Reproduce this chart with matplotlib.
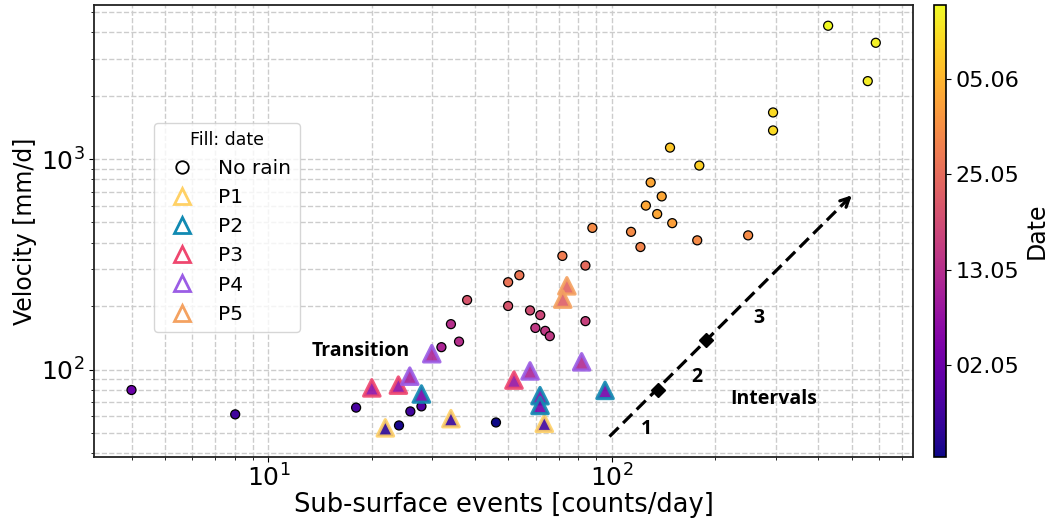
import matplotlib
matplotlib.use('Agg')
import matplotlib.pyplot as plt
import numpy as np

# --- data -----------------------------------------------------------------
# "No rain" days: events/day, velocity mm/d, date as day-of-year
dry_events = [3.99, 8.0, 18.0, 24.0, 25.9, 27.9, 46.0, 31.9, 34.0, 35.9,
              37.9, 49.9, 53.8, 49.9, 57.8, 61.9, 59.9, 64.0, 66.0, 71.8,
              83.8, 83.8, 87.8, 113.8, 121.2, 125.7, 129.8, 135.6, 139.8,
              147.8, 150.0, 177.4, 179.9, 249.6, 295.0, 295.0, 426.8,
              587.6, 556.8]
dry_velocity = [80, 61.3, 66, 54.3, 63.3, 66.9, 56.1, 127.8, 164.4, 135.8,
                213.9, 260, 280.6, 200.5, 191, 181.5, 157.7, 152.7, 144.2,
                346.6, 311.9, 169.9, 470.9, 451, 382, 601, 774, 548, 664.6,
                1133, 496, 411, 931, 434, 1367, 1664, 4295, 3565, 2344]
dry_date = [122.3, 117.0, 118.0, 112.5, 117.0, 119.7, 111.6, 132.0, 134.0,
            134.0, 141.0, 146.5, 147.0, 141.0, 139.5, 138.5, 135.8, 135.8,
            135.8, 148.0, 144.9, 137.4, 150.3, 150.3, 149.2, 154.6, 154.6,
            154.6, 154.6, 158.9, 153.5, 150.3, 160.0, 150.3, 161.5, 161.5,
            165.3, 164.2, 163.7]

# rain periods
periods = ['P1', 'P2', 'P3', 'P4', 'P5']
period_colors = ['#FFD166', '#118AB2', '#EF476F', '#9B5DE5', '#F4A261']
rain_events = [[21.9, 34.0, 63.6],
               [27.9, 61.8, 61.8, 95.6],
               [20.0, 23.9, 51.9],
               [25.8, 29.9, 57.8, 81.7],
               [74.0, 72.0]]
rain_velocity = [[52.9, 58.5, 55.6],
                 [76.6, 75.2, 67.6, 79.7],
                 [81.9, 84.4, 89.2],
                 [93.1, 119, 98.6, 108.9],
                 [250, 216.2]]
rain_date = [[114.3, 115.4, 117.0],
             [123.4, 125.0, 123.4, 123.4],
             [127.7, 127.7, 128.8],
             [130.9, 132.0, 132.0, 133.1],
             [143.8, 142.7]]

# colourbar ticks (day-of-year) and labels
date_ticks = [122.5, 133.8, 145.2, 156.5]
date_labels = ['02.05', '13.05', '25.05', '05.06']

# interval arrow and break points
arrow_start = (98.5, 48.1)
arrow_end = (507, 687)
break_events = [136.7, 188.4]
break_velocity = [80.2, 138.1]
interval_labels = ['1', '2', '3']
interval_pos = [(126.4, 52.5), (176.4, 92.5), (268.4, 176)]

# --- plot -----------------------------------------------------------------
fig = plt.figure(figsize=(10.51, 5.20), dpi=100)
ax = fig.add_axes([0.0897, 0.121, 0.779, 0.869])
cax = fig.add_axes([0.8887, 0.121, 0.0111, 0.869])

vmin = min(dry_date + sum(rain_date, []))
vmax = max(dry_date + sum(rain_date, []))

sc = ax.scatter(dry_events, dry_velocity, c=dry_date, cmap='plasma',
                vmin=vmin, vmax=vmax, s=42, edgecolors='black',
                linewidths=0.9, zorder=3)

for name, col, xs, ys, ds in zip(periods, period_colors, rain_events,
                                 rain_velocity, rain_date):
    ax.scatter(xs, ys, c=ds, cmap='plasma', vmin=vmin, vmax=vmax,
               marker='^', s=140, edgecolors=col, linewidths=2.3,
               alpha=0.9, zorder=4)

ax.set_xscale('log')
ax.set_yscale('log')
ax.grid(True, which='both', linestyle='--', color='#cccccc', linewidth=1)
ax.set_axisbelow(True)
for sp in ax.spines.values():
    sp.set_linewidth(1.3)
    sp.set_color('#222222')

ax.tick_params(axis='both', which='major', labelsize=18)
ax.tick_params(axis='x', which='major', pad=2)
ax.set_xlabel('Sub-surface events [counts/day]', fontsize=18.5, labelpad=0)
ax.set_ylabel('Velocity [mm/d]', fontsize=17, labelpad=3)

# arrow of intervals
ax.plot([arrow_start[0], arrow_end[0]], [arrow_start[1], arrow_end[1]],
        linestyle=(0, (4, 2)), color='black', linewidth=2.3, zorder=5)
ax.annotate('', xy=arrow_end,
            xytext=(arrow_end[0] * 0.93, arrow_end[1] * 0.89),
            arrowprops=dict(arrowstyle='->', color='black', lw=2.3,
                            mutation_scale=16), zorder=5)
ax.plot(break_events, break_velocity, 'D', color='black', markersize=7,
        zorder=6)

bold = dict(fontsize=14, fontweight='bold', family='Open Sans',
            ha='center', va='center', zorder=6)
for lab, (px, py) in zip(interval_labels, interval_pos):
    ax.text(px, py, lab, **bold)
ax.text(18.5, 123, 'Transition', **bold)
ax.text(296, 72.5, 'Intervals', **bold)

# legend with open markers
handles = [plt.Line2D([], [], marker='o', linestyle='none', markersize=9,
                      markerfacecolor='none', markeredgecolor='black',
                      markeredgewidth=1.3, label='No rain')]
for name, col in zip(periods, period_colors):
    handles.append(plt.Line2D([], [], marker='^', linestyle='none',
                              markersize=12, markerfacecolor='none',
                              markeredgecolor=col, markeredgewidth=2,
                              label=name))
ax.legend(handles=handles, title='Fill: date', fontsize=14.5,
          title_fontsize=12.5, loc='upper left',
          bbox_to_anchor=(0.073, 0.739), borderaxespad=0)

cb = fig.colorbar(sc, cax=cax)
cb.set_ticks(date_ticks)
cb.set_ticklabels(date_labels)
cb.ax.tick_params(labelsize=16)
cb.set_label('Date', fontsize=17)
cb.outline.set_linewidth(1.2)

fig.savefig('out.png', dpi=100)
